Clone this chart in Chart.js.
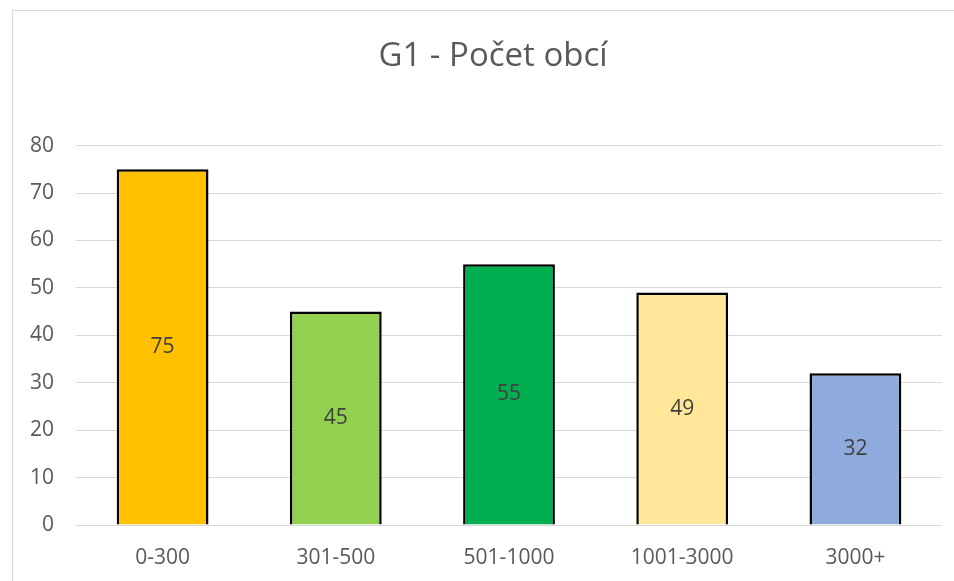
<!DOCTYPE html>
<html>
<head>
<meta charset="utf-8">
<script src="https://cdn.jsdelivr.net/npm/chart.js@4/dist/chart.umd.min.js"></script>
<style>
  html, body { margin: 0; padding: 0; background: #fff; overflow: hidden; }
  #wrap { position: absolute; left: 12px; top: 10px; width: 962px; height: 580px; border: 1px solid #d9d9d9; box-sizing: border-box; }
  #chart { display: block; }
</style>
</head>
<body>
<div id="wrap"><canvas id="chart" width="960" height="578"></canvas></div>
<script>
// data
const titleText = 'G1 - Počet obcí';
const categories = ['0-300', '301-500', '501-1000', '1001-3000', '3000+'];
const counts = [75, 45, 55, 49, 32];
const barColors = ['#FFC000', '#92D050', '#00B050', '#FFE699', '#8FAADC'];
const yTicks = [0, 10, 20, 30, 40, 50, 60, 70, 80];

const FONT = "'Open Sans', 'Liberation Sans', sans-serif";
const GREY = '#595959';

// draws the value in the middle of each bar (like excel "center" labels)
const centerLabels = {
  id: 'centerLabels',
  afterDatasetsDraw(chart){
    const c = chart.ctx;
    const meta = chart.getDatasetMeta(0);
    c.save();
    c.font = '21px ' + FONT;
    c.fillStyle = '#404040';
    c.textAlign = 'center';
    c.textBaseline = 'middle';
    meta.data.forEach((bar, i) => {
      c.fillText(String(counts[i]), bar.x, (bar.y + bar.base) / 2);
    });
    c.restore();
  }
};

const ctx = document.getElementById('chart').getContext('2d');
new Chart(ctx, {
  type: 'bar',
  data: {
    labels: categories,
    datasets: [{
      data: counts,
      backgroundColor: barColors,
      borderColor: '#000',
      borderWidth: 2.5,
      categoryPercentage: 1,
      barPercentage: 0.53
    }]
  },
  options: {
    responsive: false,
    animation: false,
    layout: { padding: { left: 0, right: 0, top: 0, bottom: 10 } },
    plugins: {
      legend: { display: false },
      tooltip: { enabled: false },
      title: {
        display: true,
        text: titleText,
        color: GREY,
        font: { family: FONT, size: 33, weight: 'normal', lineHeight: 1.2 },
        padding: { top: 26, bottom: 69 }
      }
    },
    scales: {
      x: {
        grid: { display: false },
        border: { display: false },
        ticks: { color: GREY, font: { family: FONT, size: 21 }, padding: 12, maxRotation: 0 },
        afterFit(s){ s.height = 54; }
      },
      y: {
        min: 0, max: 80,
        afterBuildTicks(s){ s.ticks = yTicks.map(v => ({ value: v })); },
        grid: { color: '#d9d9d9', lineWidth: 1, drawTicks: false },
        border: { display: false },
        ticks: { color: GREY, font: { family: FONT, size: 21 }, padding: 22 },
        afterFit(s){ s.width = 63; }
      },
      // empty right-hand axis so the plot stops short of the canvas edge while the title stays centred on the whole box
      y2: {
        position: 'right',
        display: true,
        grid: { display: false },
        border: { display: false },
        ticks: { display: false },
        afterFit(s){ s.width = 31; }
      }
    }
  },
  plugins: [centerLabels]
});
</script>
</body>
</html>
